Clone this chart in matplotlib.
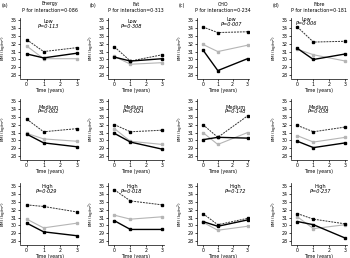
import matplotlib
matplotlib.use("Agg")
import matplotlib.pyplot as plt

times = [0, 1, 3]
nutrients = ["Energy", "Fat", "CHO", "Fibre"]
panel_tags = ["(a)", "(b)", "(c)", "(d)"]
p_interaction = ["0·086", "0·313", "0·234", "0·181"]
levels = ["Low", "Medium", "High"]
p_level = [
    ["0·113", "0·002", "0·029"],
    ["0·308", "0·024", "0·018"],
    ["0·007", "0·148", "0·172"],
    ["0·006", "0·038", "0·237"],
]

# series A (black dashed, squares), B (grey), C (black solid)
series_a = [
    [[32.5, 31.0, 31.5], [32.7, 31.1, 31.5], [32.6, 32.4, 31.7]],
    [[31.6, 29.8, 30.6], [32.0, 31.1, 31.3], [34.5, 33.1, 32.6]],
    [[34.1, 33.4, 33.5], [32.0, 30.4, 33.1], [31.5, 30.1, 30.9]],
    [[34.1, 32.2, 32.3], [31.9, 31.1, 31.7], [31.5, 30.8, 30.2]],
]
series_b = [
    [[31.7, 30.1, 30.1], [30.9, 30.2, 29.9], [30.8, 29.7, 30.3]],
    [[30.4, 29.4, 29.6], [31.5, 29.9, 29.5], [31.3, 30.8, 31.1]],
    [[31.9, 31.0, 31.8], [31.0, 29.5, 31.0], [30.4, 29.4, 29.9]],
    [[31.3, 30.6, 29.8], [30.6, 29.8, 30.4], [31.1, 29.6, 30.1]],
]
series_c = [
    [[30.7, 30.2, 30.8], [30.8, 29.7, 29.2], [30.3, 29.2, 28.7]],
    [[30.3, 29.8, 30.1], [30.9, 29.8, 28.9], [30.6, 29.5, 29.5]],
    [[31.2, 28.6, 30.1], [30.1, 30.4, 30.3], [30.5, 29.9, 30.7]],
    [[31.4, 30.0, 30.7], [29.9, 29.1, 29.7], [30.5, 30.1, 28.4]],
]
yticks = [28, 29, 30, 31, 32, 33, 34, 35]
xticks = [0, 1, 2, 3]

# text placement inside panels (x in data units, y of first line)
inner_x = [[1.3, 1.3, 1.2], [1.1, 1.2, 1.1], [1.9, 2.2, 2.2], [0.55, 1.3, 1.45]]
inner_y = [[34.8, 34.2, 34.9], [34.8, 34.2, 34.9], [35.0, 34.2, 34.9], [35.1, 34.2, 34.9]]

W, H = 350, 258
fig = plt.figure(figsize=(W / 100, H / 100), dpi=100)

col_left = [20, 108, 197, 291]
col_width = [59, 56, 52, 56]
row_top = [17.5, 98.5, 183.5]
row_h = 61.0

fs = 3.4
lfs = 3.0
for c in range(4):
    for r in range(3):
        left = col_left[c] / W
        bottom = 1 - (row_top[r] + row_h) / H
        ax = fig.add_axes([left, bottom, col_width[c] / W, row_h / H])
        ax.plot(times, series_b[c][r], color="#b5b5b5", lw=0.8, marker="s",
                ms=1.6, mfc="#b5b5b5", mec="#b5b5b5", zorder=2)
        ax.plot(times, series_a[c][r], color="#333333", lw=0.7, ls=(0, (2, 1)),
                marker="s", ms=1.8, mfc="black", mec="black", zorder=3)
        ax.plot(times, series_c[c][r], color="black", lw=1.0, marker="s",
                ms=1.8, mfc="black", mec="black", zorder=3)
        ax.set_xlim(-0.4, 3.1)
        ax.set_ylim(27.6, 35.3)
        ax.set_yticks(yticks)
        ax.set_xticks(xticks)
        ax.tick_params(labelsize=fs, length=1.3, width=0.5, pad=1.2)
        for s in ["top", "right"]:
            ax.spines[s].set_visible(False)
        for s in ["left", "bottom"]:
            ax.spines[s].set_linewidth(0.5)
        ax.set_xlabel("Time (years)", fontsize=lfs + 0.3, labelpad=1.0)
        ax.set_ylabel("BMI (kg/m$^2$)", fontsize=lfs, labelpad=1.0)
        ax.text(inner_x[c][r], inner_y[c][r], levels[r], fontsize=fs + 0.2,
                ha="center", va="center")
        ax.text(inner_x[c][r], inner_y[c][r] - 0.6, "P=" + p_level[c][r],
                fontsize=fs + 0.2, ha="center", va="center", style="italic")
    cx = (col_left[c] + col_width[c] / 2) / W
    fig.text(cx, 1 - 4 / H, nutrients[c], fontsize=fs, ha="center", va="center")
    fig.text(cx, 1 - 10.5 / H, "P for interaction=" + p_interaction[c],
             fontsize=fs, ha="center", va="center")
    fig.text((col_left[c] - 18) / W, 1 - 6 / H, panel_tags[c], fontsize=fs,
             ha="left", va="center")

fig.savefig("out.png", dpi=100)
